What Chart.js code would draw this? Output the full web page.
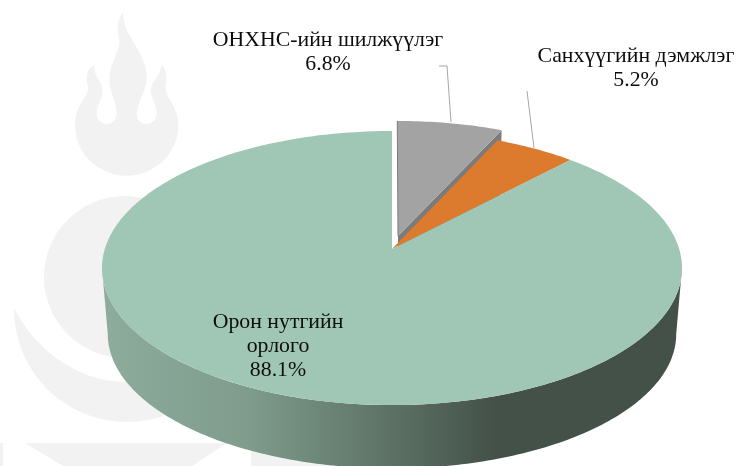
<!DOCTYPE html>
<html>
<head>
<meta charset="utf-8">
<style>html,body{margin:0;padding:0;background:#fff}canvas{display:block}</style>
<script src="https://cdn.jsdelivr.net/npm/chart.js@4"></script>
</head>
<body>
<canvas id="c" width="736" height="466"></canvas>
<script>
const categories = ["ОНХНС-ийн шилжүүлэг", "Санхүүгийн дэмжлэг", "Орон нутгийн орлого"];
const values = [6.8, 5.2, 88.1];
const colors = ["#A3A3A3", "#DC7A2E", "#A0C7B5"];
const wallColors = ["#7B7B7B", "#A65B22", "#5B7063"];
const explode = [0.1, 0, 0];
const labelLines = [["ОНХНС-ийн шилжүүлэг"], ["Санхүүгийн дэмжлэг"], ["Орон нутгийн", "орлого"]];
const labelAt = [[328, 46], [636, 62], [278, 328]];
const leaders = [[[451, 122], [447, 66], [439, 66]], [[534, 148], [527, 91]], []];

// perspective of the tilted disc
const P = 0.1387, RX = 287.2, RY = 134.4;
const DROP = 66.5, BOTTOM_SCALE = 0.98;

function project(arc, theta, r, off, idx, lower) {
  const mid = off.mid;
  const u = r * Math.sin(theta) + off.d * Math.sin(mid);
  const v = -r * Math.cos(theta) - off.d * Math.cos(mid);
  const w = 1 - P * v;
  const k = lower ? BOTTOM_SCALE : 1;
  return [arc.x + k * RX * u / w, arc.y + (lower ? DROP : 0) + k * RY * v / w];
}
function thetas(a, b) {
  const out = [], n = Math.max(2, Math.ceil(Math.abs(b - a) * 60));
  for (let i = 0; i <= n; i++) out.push(a + (b - a) * i / n);
  return out;
}
function trace(ctx, pts) {
  pts.forEach((p, i) => i ? ctx.lineTo(p[0], p[1]) : ctx.moveTo(p[0], p[1]));
}

function drawWatermark(ctx) {
  ctx.save();
  ctx.fillStyle = "#F2F2F2";
  // flames
  ctx.save();
  ctx.translate(65, 5);
  ctx.scale(1 / 3, 1 / 3);
  ctx.beginPath();
  ctx.moveTo(175, 22);
  ctx.bezierCurveTo(160, 40, 152, 65, 162, 100);
  ctx.bezierCurveTo(170, 135, 135, 165, 133, 225);
  ctx.bezierCurveTo(133, 260, 155, 295, 155, 325);
  ctx.bezierCurveTo(155, 345, 142, 357, 125, 357);
  ctx.bezierCurveTo(108, 357, 95, 343, 95, 325);
  ctx.bezierCurveTo(95, 295, 118, 280, 112, 250);
  ctx.bezierCurveTo(108, 225, 85, 215, 88, 178);
  ctx.bezierCurveTo(70, 190, 60, 210, 68, 240);
  ctx.bezierCurveTo(78, 275, 30, 290, 30, 360);
  ctx.bezierCurveTo(30, 445, 100, 512, 185, 512);
  ctx.bezierCurveTo(270, 512, 340, 445, 340, 360);
  ctx.bezierCurveTo(340, 300, 298, 280, 302, 240);
  ctx.bezierCurveTo(310, 210, 300, 190, 288, 178);
  ctx.bezierCurveTo(290, 215, 262, 225, 258, 250);
  ctx.bezierCurveTo(254, 280, 275, 295, 275, 325);
  ctx.bezierCurveTo(275, 343, 262, 357, 245, 357);
  ctx.bezierCurveTo(228, 357, 215, 345, 215, 325);
  ctx.bezierCurveTo(215, 295, 245, 260, 245, 215);
  ctx.bezierCurveTo(245, 140, 170, 90, 175, 22);
  ctx.closePath();
  ctx.fill();
  ctx.restore();
  // sun
  ctx.beginPath();
  ctx.arc(125, 277, 81, 0, Math.PI * 2);
  ctx.fill();
  // crescent
  ctx.beginPath();
  ctx.moveTo(14, 308);
  ctx.arc(127, 309, 113, Math.PI, 0, true);
  ctx.bezierCurveTo(218, 345, 175, 382, 125, 382);
  ctx.bezierCurveTo(75, 382, 32, 345, 14, 308);
  ctx.closePath();
  ctx.fill();
  // base
  ctx.fillRect(0, 443, 3, 23);
  ctx.beginPath();
  ctx.moveTo(25, 443); ctx.lineTo(227, 443); ctx.lineTo(192, 466); ctx.lineTo(63, 466);
  ctx.closePath();
  ctx.fill();
  ctx.fillRect(251, 443, 100, 23);
  ctx.restore();
}

const pie3d = {
  id: "pie3d",
  beforeDraw(chart) { drawWatermark(chart.ctx); },
  // the arcs keep the library's angles; they are only painted as a tilted disc
  beforeDatasetDraw(chart, args) {
    const ctx = chart.ctx;
    const arcs = chart.getDatasetMeta(args.index).data;
    const TOP = Math.PI / 2;
    ctx.save();
    const info = arcs.map((arc, i) => {
      const a = arc.startAngle + TOP, b = arc.endAngle + TOP;
      return { arc, i, a, b, off: { d: explode[i], mid: (a + b) / 2 } };
    });
    // cut face of the exploded slice
    info.filter(s => explode[s.i] > 0).forEach(s => {
      const top = [project(s.arc, s.a, 0, s.off, s.i), project(s.arc, s.b, 1, s.off, s.i)];
      const low = [project(s.arc, s.a, 0, s.off, s.i, true), project(s.arc, s.b, 1, s.off, s.i, true)];
      ctx.beginPath();
      ctx.moveTo(top[0][0], top[0][1]);
      ctx.lineTo(top[1][0], top[1][1]);
      ctx.lineTo(low[1][0], low[1][1]);
      ctx.lineTo(low[0][0], low[0][1]);
      ctx.closePath();
      ctx.fillStyle = wallColors[s.i];
      ctx.fill();
    });
    // front wall of the disc, on the part of the rim that faces the viewer
    const big = info.find(s => s.b - s.a > Math.PI);
    const from = Math.PI / 2 + Math.asin(P), to = 3 * Math.PI / 2 - Math.asin(P);
    const upper = thetas(from, to).map(t => project(big.arc, t, 1, big.off, big.i));
    const lower = thetas(to, from).map(t => project(big.arc, t, 1, big.off, big.i, true));
    const g = ctx.createLinearGradient(103, 0, 682, 0);
    [[0, "#8DAC9C"], [0.25, "#7F9C8D"], [0.5, "#5C7164"], [0.68, "#435149"], [1, "#435149"]]
      .forEach(s => g.addColorStop(s[0], s[1]));
    ctx.beginPath();
    trace(ctx, upper.concat(lower));
    ctx.closePath();
    ctx.fillStyle = g;
    ctx.fill();
    // top faces
    info.forEach(s => {
      ctx.beginPath();
      trace(ctx, [project(s.arc, s.a, 0, s.off, s.i)].concat(thetas(s.a, s.b).map(t => project(s.arc, t, 1, s.off, s.i))));
      ctx.closePath();
      ctx.fillStyle = s.arc.options.backgroundColor;
      ctx.fill();
    });
    // thin dark edge on the left of the exploded slice
    info.filter(s => explode[s.i] > 0).forEach(s => {
      const p0 = project(s.arc, s.a, 0, s.off, s.i), p1 = project(s.arc, s.a, 1, s.off, s.i);
      ctx.beginPath();
      ctx.moveTo(p0[0], p0[1]);
      ctx.lineTo(p1[0], p1[1]);
      ctx.strokeStyle = wallColors[s.i];
      ctx.lineWidth = 1;
      ctx.stroke();
    });
    ctx.restore();
    return false;
  },
  afterDatasetsDraw(chart) {
    const ctx = chart.ctx;
    ctx.save();
    ctx.strokeStyle = "#A6A6A6";
    ctx.lineWidth = 1;
    leaders.forEach(l => {
      if (!l.length) return;
      ctx.beginPath();
      trace(ctx, l);
      ctx.stroke();
    });
    ctx.fillStyle = "#0D0D0D";
    ctx.font = '21.8px "Liberation Serif"';
    ctx.textAlign = "center";
    ctx.textBaseline = "alphabetic";
    values.forEach((v, i) => {
      const lines = labelLines[i].concat([v.toFixed(1) + "%"]);
      lines.forEach((t, k) => ctx.fillText(t, labelAt[i][0], labelAt[i][1] + k * 24));
    });
    ctx.restore();
  }
};

new Chart(document.getElementById("c"), {
  type: "pie",
  data: {
    labels: categories,
    datasets: [{ data: values, backgroundColor: colors, borderWidth: 0 }]
  },
  options: {
    responsive: false,
    animation: false,
    devicePixelRatio: 1,
    rotation: 0,
    layout: { padding: { left: 100, right: 52, top: 60, bottom: 28 } },
    plugins: { legend: { display: false }, tooltip: { enabled: false } },
    events: []
  },
  plugins: [pie3d]
});
</script>
</body>
</html>
